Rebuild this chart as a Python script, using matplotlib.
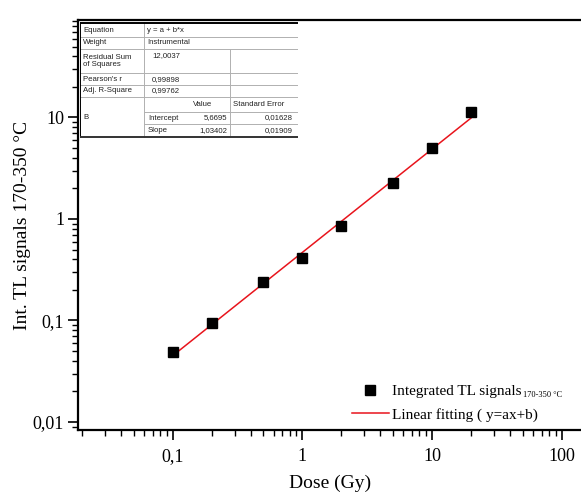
import numpy as np
import matplotlib
matplotlib.use('Agg')
import matplotlib.pyplot as plt
from matplotlib.ticker import FuncFormatter, LogLocator

# =========================
# FONT SETTINGS
# =========================
matplotlib.rcParams.update({
    'font.family': 'Liberation Serif',
    'font.size': 13,
})

# =========================
# DATA
# =========================
dose = [0.1, 0.2, 0.5, 1, 2, 5, 10, 20]
signal = [0.049, 0.095, 0.237, 0.41, 0.85, 2.25, 4.97, 11.4]

x_ticks = [0.1, 1, 10, 100]
y_ticks = [0.01, 0.1, 1, 10]

table_rows = [
    ("Equation", "y = a + b*x"),
    ("Weight", "Instrumental"),
    ("Residual Sum\nof Squares", "12,0037"),
    ("Pearson's r", "0,99898"),
    ("Adj. R-Square", "0,99762"),
]
param_names = ["Intercept", "Slope"]
param_values = ["5,6695", "1,03402"]
param_errors = ["0,01628", "0,01909"]

# linear fit in log-log space
b, a = np.polyfit(np.log10(dose), np.log10(signal), 1)
fit_x = np.array([min(dose), max(dose)])
fit_y = 10 ** (a + b * np.log10(fit_x))

W, H = 581, 493
fig = plt.figure(figsize=(W / 100, H / 100), dpi=100)

# axes extends past the right border of the image (cropped in the original)
left_px, right_px, top_px, bottom_px = 78, 600.7, 20, 430
ax = fig.add_axes([left_px / W, 1 - bottom_px / H,
                   (right_px - left_px) / W, (bottom_px - top_px) / H])

ax.plot(dose, signal, 's', color='black', markersize=7,
        label='Integrated TL signals', zorder=4)
ax.plot(fit_x, fit_y, '-', color='#e8141c', lw=1.1,
        label='Linear fitting ( y=ax+b)', zorder=3)

ax.set_xscale('log')
ax.set_yscale('log')
ax.set_xlim(0.0186, 200)
ax.set_ylim(0.00834, 91.3)

fmt = FuncFormatter(lambda v, p: ('%g' % v).replace('.', ','))
ax.set_xticks(x_ticks)
ax.set_yticks(y_ticks)
ax.xaxis.set_major_formatter(fmt)
ax.yaxis.set_major_formatter(fmt)
ax.xaxis.set_minor_locator(LogLocator(base=10, subs=np.arange(2, 10)))
ax.yaxis.set_minor_locator(LogLocator(base=10, subs=np.arange(2, 10)))
ax.xaxis.set_minor_formatter(FuncFormatter(lambda v, p: ''))
ax.yaxis.set_minor_formatter(FuncFormatter(lambda v, p: ''))
ax.tick_params(which='major', direction='out', length=7, width=1.2, labelsize=13)
ax.tick_params(which='minor', direction='out', length=4, width=1.0)
ax.tick_params(axis='x', pad=6)
ax.tick_params(axis='y', pad=3)
for s in ax.spines.values():
    s.set_linewidth(1.6)

ax.set_xlabel('Dose (Gy)', fontsize=14)
ax.xaxis.set_label_coords((330 - left_px) / (right_px - left_px), -0.11)
ax.set_ylabel('Int. TL signals 170-350 °C', fontsize=14)
ax.yaxis.set_label_coords(-(left_px - 31) / (right_px - left_px), 0.5)

leg = ax.legend(loc='lower left', bbox_to_anchor=(346 / W, (H - 428) / H),
                bbox_transform=fig.transFigure, frameon=False, fontsize=11,
                handlelength=2.4, handletextpad=0.2, labelspacing=0.65,
                borderaxespad=0)

# tiny subscript after the first legend entry
fig.canvas.draw()
bb = leg.get_texts()[0].get_window_extent()
fig.text(bb.x1 + 2, bb.y0 - 1, '170-350 °C', fontsize=6,
         ha='left', va='bottom', transform=None)

# =========================
# FIT TABLE (inset, pixel coordinates)
# =========================
tx0, tx1, ty0, ty1 = 80, 298, 22, 138
tab = fig.add_axes([tx0 / W, 1 - ty1 / H, (tx1 - tx0) / W, (ty1 - ty0) / H])
tab.set_xlim(tx0, tx1)
tab.set_ylim(ty1, ty0)
tab.axis('off')
tab.add_patch(plt.Rectangle((tx0, ty0), tx1 - tx0, ty1 - ty0,
                            facecolor='white', edgecolor='none', zorder=0))

grey = '#b0b0b0'
tfont = dict(family='Liberation Sans', fontsize=5.6, color='#222222', va='center')
for yy in [37.3, 49.3, 73.3, 85, 97.3]:
    tab.plot([tx0, tx1], [yy, yy], color=grey, lw=0.7)
tab.plot([144, tx1], [111.7, 111.7], color=grey, lw=0.7)
tab.plot([144, tx1], [124, 124], color=grey, lw=0.7)
tab.plot([144, 144], [ty0, ty1], color=grey, lw=0.7)
tab.plot([230, 230], [49.3, ty1], color=grey, lw=0.7)
tab.plot([tx0 + 0.5, tx0 + 0.5], [ty0, ty1], color='black', lw=1.4)
tab.plot([tx0, tx1], [ty0 + 0.5, ty0 + 0.5], color='black', lw=1.4)
tab.plot([tx0, tx1], [ty1 - 0.7, ty1 - 0.7], color='#333333', lw=1.4)

row_y = [30.5, 43, 61, 79.5, 91]
for (name, val), yy in zip(table_rows, row_y):
    tab.text(83, yy, name, ha='left', linespacing=1.1, **tfont)
    if name.startswith('Residual'):
        tab.text(152, 56, val, ha='left', **tfont)
    elif name in ('Equation', 'Weight'):
        tab.text(147, yy, val, ha='left', **tfont)
    else:
        tab.text(152, yy, val, ha='left', **tfont)

tab.text(203, 104.5, 'Value', ha='center', **tfont)
tab.text(233, 104.5, 'Standard Error', ha='left', **tfont)
tab.text(83, 117.5, 'B', ha='left', **tfont)
for pn, pv, pe, yy in zip(param_names, param_values, param_errors, [118, 130.5]):
    tab.text(148, yy, pn, ha='left', **tfont)
    tab.text(227, yy, pv, ha='right', **tfont)
    tab.text(293, yy, pe, ha='right', **tfont)

fig.savefig('out.png', dpi=100, facecolor='white')
